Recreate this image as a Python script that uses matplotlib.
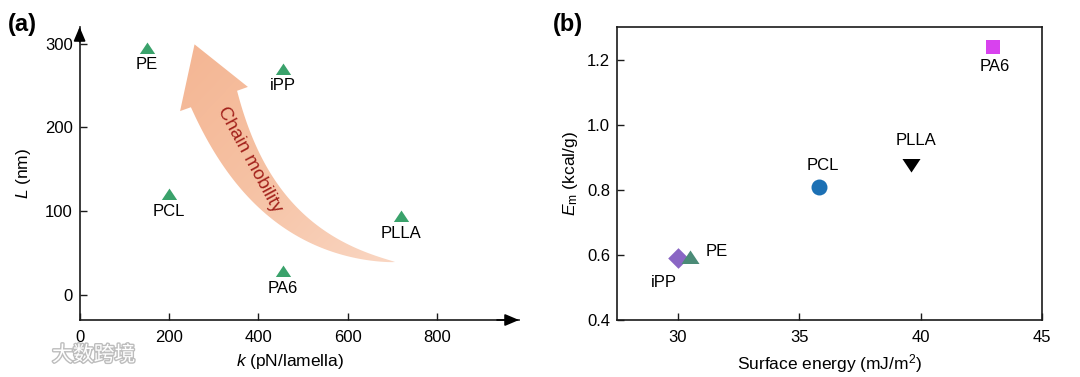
import numpy as np
import matplotlib
matplotlib.use('Agg')
import matplotlib.pyplot as plt
from matplotlib.path import Path
from matplotlib.patches import PathPatch
from matplotlib.transforms import Affine2D
from matplotlib.colors import LinearSegmentedColormap
import matplotlib.patheffects as pe

plt.rcParams['font.family'] = ['Liberation Sans', 'DejaVu Sans']
plt.rcParams['mathtext.fontset'] = 'custom'
plt.rcParams['mathtext.rm'] = 'Liberation Sans'
plt.rcParams['mathtext.it'] = 'Liberation Sans:italic'

# ---------------- data ----------------
# Panel (a): lamellar length L vs stiffness k
a_names = ['PE', 'iPP', 'PCL', 'PLLA', 'PA6']
a_k = [150, 455, 200, 720, 455]
a_L = [295, 270, 120, 94, 28]
a_xticks = [0, 200, 400, 600, 800]
a_yticks = [0, 100, 200, 300]

# Panel (b): Em vs surface energy
b_names = ['iPP', 'PE', 'PCL', 'PLLA', 'PA6']
b_surface = [30.0, 30.5, 35.8, 39.6, 43.0]
b_Em = [0.59, 0.594, 0.81, 0.877, 1.24]
b_xticks = [30, 35, 40, 45]
b_yticks = [0.4, 0.6, 0.8, 1.0, 1.2]

# ---------------- styling ----------------
W, H = 1080, 377
fig = plt.figure(figsize=(W / 100, H / 100), dpi=100)
px = Affine2D().scale(1 / W, -1 / H).translate(0, 1) + fig.transFigure

tri_up = [(-1, -0.72), (1, -0.72), (0, 0.78), (-1, -0.72)]
tri_dn = [(-1, 0.72), (1, 0.72), (0, -0.78), (-1, 0.72)]

FS = 12
spine_c = '#1a1a1a'

# ---------------- panel (a) ----------------
axA = fig.add_axes([79.6 / W, (H - 320) / H, (519 - 79.6) / W, (320 - 27) / H])
for sp in ['top', 'right']:
    axA.spines[sp].set_visible(False)
for sp in ['left', 'bottom']:
    axA.spines[sp].set_linewidth(1.2)
    axA.spines[sp].set_color(spine_c)
axA.set_xticks(a_xticks)
axA.set_yticks(a_yticks)
axA.tick_params(direction='in', length=5, width=1, labelsize=FS, color=spine_c)
axA.tick_params(axis='x', pad=7)
axA.tick_params(axis='y', pad=5)

# axis arrowheads
ap = dict(arrowstyle='-|>,head_length=0.85,head_width=0.36', color='black',
          shrinkA=0, shrinkB=0, lw=1.2, mutation_scale=10)
axA.annotate('', xy=(1.0, 0), xytext=(0.95, 0), xycoords='axes fraction',
             arrowprops=ap, annotation_clip=False)
axA.annotate('', xy=(0, 1.0), xytext=(0, 0.95), xycoords='axes fraction',
             arrowprops=ap, annotation_clip=False)

# curved "Chain mobility" arrow (decorative, drawn in figure pixels)
Hc = np.array([214.0, 99.0])
C1 = np.array([240.0, 172.0])
C2 = np.array([287.0, 247.0])
Tc = np.array([395.0, 262.0])
s = np.linspace(0, 1, 150)
def bez(s):
    return (((1 - s) ** 3)[:, None] * Hc + (3 * (1 - s) ** 2 * s)[:, None] * C1
            + (3 * (1 - s) * s ** 2)[:, None] * C2 + (s ** 3)[:, None] * Tc)
def bezd(s):
    return ((3 * (1 - s) ** 2)[:, None] * (C1 - Hc) + (6 * (1 - s) * s)[:, None] * (C2 - C1)
            + (3 * s ** 2)[:, None] * (Tc - C2))
c = bez(s)
t = bezd(s)
t /= np.linalg.norm(t, axis=1)[:, None]
n = np.column_stack([t[:, 1], -t[:, 0]])
w = 24.5 * (1 - s) ** 0.8
left = c + w[:, None] * n
right = c - w[:, None] * n
t0 = t[0]
n0 = n[0]
base_l = Hc + 36 * n0
base_r = Hc - 36 * n0
tip = Hc - 58 * t0
verts = np.vstack([right[::-1], base_r[None], tip[None], base_l[None], left, left[-1:]])
codes = [Path.MOVETO] + [Path.LINETO] * (len(verts) - 2) + [Path.CLOSEPOLY]
arrow = PathPatch(Path(verts, codes), transform=px, facecolor='none', edgecolor='none')
axA.add_patch(arrow)
arrow.set_clip_on(False)
grad = np.linspace(0, 1, 256).reshape(-1, 1) * np.ones((1, 256))
gx = np.linspace(0, 1, 256)[None, :]
gg = np.clip(0.5 * grad + 0.5 * gx, 0, 1)
cm = LinearSegmentedColormap.from_list('peach', ['#F4B491', '#F6C2A4', '#FAD8C5'])
im = axA.imshow(gg, cmap=cm, extent=(200, 720, 25, 320), origin='upper',
                aspect='auto', zorder=1, interpolation='bilinear')
im.set_clip_path(arrow)
axA.set_xlim(0, 984)
axA.set_ylim(-30, 320)

fig.text(250 / W, 1 - 160 / H, 'Chain mobility', rotation=-61.5, rotation_mode='anchor',
         ha='center', va='center', fontsize=13.5, color='#A3211B')

axA.scatter(a_k, a_L, marker=tri_up, s=11 ** 2, color='#3AA26B', zorder=3, linewidths=0)
for name, x, y in zip(a_names, a_k, a_L):
    axA.annotate(name, (x, y), xytext=(0, -12.2), textcoords='offset points',
                 ha='center', va='center', fontsize=FS)

axA.set_xlabel('$k$ (pN/lamella)', fontsize=12.5)
axA.xaxis.set_label_coords(0.48, -0.11)
axA.set_ylabel('$L$ (nm)', fontsize=12.5)
axA.yaxis.set_label_coords(-0.105, 0.5)

# ---------------- panel (b) ----------------
axB = fig.add_axes([617 / W, (H - 320) / H, 425 / W, (320 - 27) / H])
axB.set_xlim(27.49, 45)
axB.set_ylim(0.4, 1.3015)
for sp in axB.spines.values():
    sp.set_linewidth(1.2)
    sp.set_color(spine_c)
axB.set_xticks(b_xticks)
axB.set_yticks(b_yticks)
axB.set_yticklabels([f'{v:.1f}' for v in b_yticks])
axB.tick_params(direction='in', length=5, width=1, labelsize=FS, color=spine_c)
axB.tick_params(axis='x', pad=7)
axB.tick_params(axis='y', pad=5)

b_markers = ['D', tri_up, 'o', tri_dn, 's']
b_colors = ['#8A66C4', '#4B8B77', '#1C70B4', '#000000', '#D842EE']
b_sizes = [10.5, 13, 11.5, 13, 10]
b_offsets = [(-10, -17.3), (19.4, 3.6), (2.9, 15.1), (3.6, 17.3), (0.7, -13.7)]
for name, x, y, m, col, ms, off in zip(b_names, b_surface, b_Em, b_markers,
                                       b_colors, b_sizes, b_offsets):
    axB.scatter([x], [y], marker=m, s=ms ** 2, color=col, zorder=3, linewidths=0)
    axB.annotate(name, (x, y), xytext=off, textcoords='offset points',
                 ha='center', va='center', fontsize=FS)

axB.set_xlabel('Surface energy (mJ/m$^\\mathrm{2}$)', fontsize=12.5)
axB.xaxis.set_label_coords(0.5, -0.11)
axB.set_ylabel('$E_\\mathrm{m}$ (kcal/g)', fontsize=12.5)
axB.yaxis.set_label_coords(-0.087, 0.5)

# panel letters
fig.text(8 / W, 1 - 24 / H, '(a)', fontsize=17, fontweight='bold', ha='left', va='center')
fig.text(553 / W, 1 - 24 / H, '(b)', fontsize=17, fontweight='bold', ha='left', va='center')

# watermark
fig.text(52 / W, 1 - 355 / H, '大数跨境', family=['Noto Sans CJK SC', 'DejaVu Sans'],
         fontsize=15, color='white', ha='left', va='center',
         path_effects=[pe.withStroke(linewidth=2.0, foreground='#BDBDBD')])

fig.savefig('out.png', dpi=100)
